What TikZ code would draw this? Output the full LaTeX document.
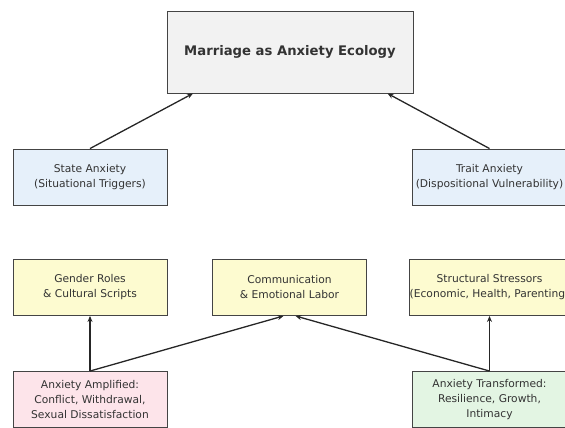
\documentclass[tikz,border=0pt]{standalone}
\usepackage{fontspec}
\setmainfont{DejaVu Sans}
\usepackage{tikz}
\usetikzlibrary{arrows.meta}

\definecolor{titlefill}{HTML}{F2F2F2}
\definecolor{levelfill}{HTML}{E6F0FA}
\definecolor{factorfill}{HTML}{FDFBD0}
\definecolor{ampfill}{HTML}{FDE4EA}
\definecolor{transfill}{HTML}{E3F5E3}
\definecolor{edgegray}{HTML}{444444}
\definecolor{textgray}{HTML}{333333}

\begin{document}
\begin{tikzpicture}[x=1pt, y=-1pt,
  box/.style={draw=edgegray, line width=0.9pt, rectangle, align=center,
    minimum width=154pt, minimum height=56pt, inner sep=0pt,
    text=textgray, font=\fontsize{10.7}{15}\selectfont},
  titlebox/.style={box, fill=titlefill, minimum width=246pt, minimum height=82pt,
    font=\bfseries\fontsize{13.2}{16}\selectfont},
  link/.style={draw=black!85, line width=1.3pt, -{Stealth[length=6pt, width=5pt]}}]

\useasboundingbox (0, 0) rectangle (565, 428);

\node[titlebox] (top) at (290, 52) {Marriage as Anxiety Ecology};

\node[box, fill=levelfill] (state) at (90, 177) {State Anxiety\\(Situational Triggers)};
\node[box, fill=levelfill] (trait) at (489.5, 177) {Trait Anxiety\\(Dispositional Vulnerability)};

\node[box, fill=factorfill] (gender) at (90, 287.5) {Gender Roles\\\& Cultural Scripts};
\node[box, fill=factorfill] (comm) at (289.5, 287.5) {Communication\\\& Emotional Labor};
\node[box, fill=factorfill] (stress) at (489.5, 287.5) {Structural Stressors\\(Economic, Health, Parenting)};

\node[box, fill=ampfill] (amp) at (90, 399.5) {Anxiety Amplified:\\Conflict, Withdrawal,\\Sexual Dissatisfaction};
\node[box, fill=transfill] (trans) at (489.5, 399.5) {Anxiety Transformed:\\Resilience, Growth,\\Intimacy};

\draw[link] (state.north) -- ([xshift=-97pt]top.south);
\draw[link] (trait.north) -- ([xshift=97.5pt]top.south);

\draw[link] (amp.north) -- (gender.south);
\draw[link] (trans.north) -- (stress.south);
\draw[link] (amp.north) -- ([xshift=-6pt]comm.south);
\draw[link] (trans.north) -- ([xshift=6pt]comm.south);

\end{tikzpicture}
\end{document}
